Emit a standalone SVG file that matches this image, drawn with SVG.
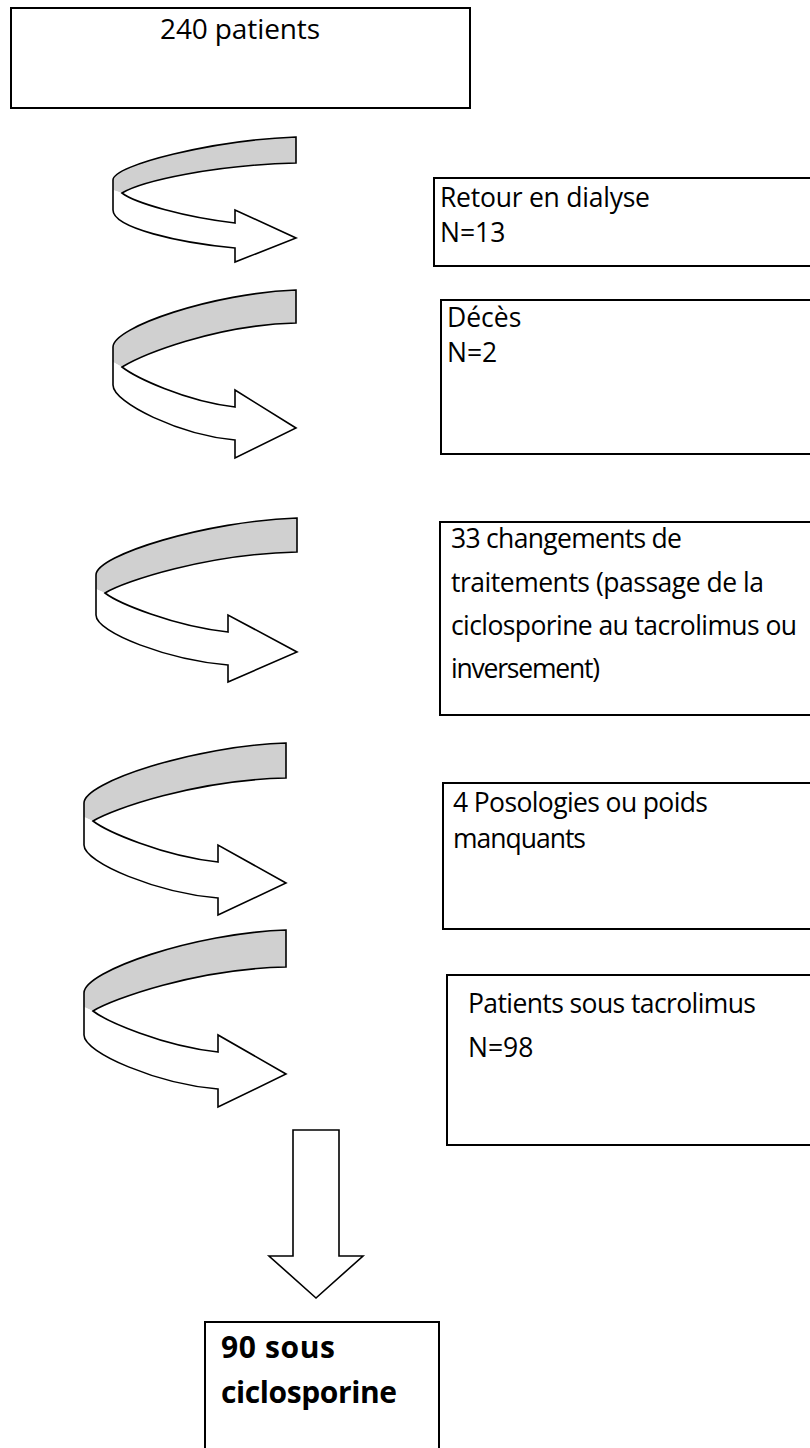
<svg xmlns="http://www.w3.org/2000/svg" width="810" height="1448" viewBox="0 0 810 1448">
<style>
.box{fill:#fff;stroke:#000;stroke-width:2}
.t{font-family:"Open Sans","Liberation Sans",sans-serif;font-size:26.5px;fill:#000}
.big{font-size:28px}
.tb{font-family:"Open Sans","Liberation Sans",sans-serif;font-size:30px;font-weight:bold;fill:#000}
.back{fill:#d0d0d0;stroke:none}
.front{fill:#fff;stroke:none}
.edge{fill:none;stroke:#000;stroke-width:1.6;stroke-linejoin:miter}
.down{fill:#fff;stroke:#000;stroke-width:1.6}
</style>
<rect width="810" height="1448" fill="#fff"/>

<g id="connectors">
  <g id="arrow1">
    <path class="back" d="M296,137 C214,140 113,165 113,180 L113,190 L122,193 C142,181 214,165 296,163 Z"/>
    <path class="front" d="M122,193 C135,203 184,217 235,223 L235,210 L296,238 L235,262 L235,248 C180,243 113,228 113,210 L113,190 Z"/>
    <path class="edge" d="M296,163 L296,137 C214,140 113,165 113,180 L113,210 C113,228 180,243 235,248 L235,262 L296,238 L235,210 L235,223 C184,217 135,203 122,193 C142,181 214,165 296,163 Z"/>
  </g>
  <g id="arrow2">
    <path class="back" d="M296,290 C214,293 113,327 113,347 L113,362 L122,367 C142,355 214,325 296,323 Z"/>
    <path class="front" d="M122,367 C135,377 184,401 235,407 L235,390 L296,428 L235,458 L235,440 C180,435 113,403 113,385 L113,362 Z"/>
    <path class="edge" d="M296,323 L296,290 C214,293 113,327 113,347 L113,385 C113,403 180,435 235,440 L235,458 L296,428 L235,390 L235,407 C184,401 135,377 122,367 C142,355 214,325 296,323 Z"/>
  </g>
  <g id="arrow3">
    <path class="back" d="M297,518 C207,521 96,555 96,575 L96,589 L105,593 C125,581 207,554 297,552 Z"/>
    <path class="front" d="M105,593 C118,603 173,626 228,632 L228,615 L297,652 L228,682 L228,665 C169,660 96,633 96,615 L96,589 Z"/>
    <path class="edge" d="M297,552 L297,518 C207,521 96,555 96,575 L96,615 C96,633 169,660 228,665 L228,682 L297,652 L228,615 L228,632 C173,626 118,603 105,593 C125,581 207,554 297,552 Z"/>
  </g>
  <g id="arrow4">
    <path class="back" d="M286,743 C195,746 84,782 84,803 L84,817 L93,821 C113,809 195,780 286,778 Z"/>
    <path class="front" d="M93,821 C106,831 162,856 218,862 L218,845 L286,883 L218,915 L218,898 C158,893 84,863 84,845 L84,817 Z"/>
    <path class="edge" d="M286,778 L286,743 C195,746 84,782 84,803 L84,845 C84,863 158,893 218,898 L218,915 L286,883 L218,845 L218,862 C162,856 106,831 93,821 C113,809 195,780 286,778 Z"/>
  </g>
  <g id="arrow5">
    <path class="back" d="M286,930 C195,933 84,971 84,993 L84,1007 L93,1011 C113,999 195,969 286,967 Z"/>
    <path class="front" d="M93,1011 C106,1021 162,1046 218,1052 L218,1035 L286,1074 L218,1107 L218,1089 C158,1084 84,1053 84,1035 L84,1007 Z"/>
    <path class="edge" d="M286,967 L286,930 C195,933 84,971 84,993 L84,1035 C84,1053 158,1084 218,1089 L218,1107 L286,1074 L218,1035 L218,1052 C162,1046 106,1021 93,1011 C113,999 195,969 286,967 Z"/>
  </g>
  <g id="arrow-down">
    <polygon class="down" points="293,1130 339,1130 339,1256 363,1256 316,1298 269,1256 293,1256"/>
  </g>
</g>

<g id="node-start">
  <rect class="box" x="11" y="8" width="459" height="100"/>
  <text class="t big" x="160" y="39" textLength="160">240 patients</text>
</g>
<g id="node-dialyse">
  <rect class="box" x="434" y="178" width="390" height="88"/>
  <text class="t" x="440" y="207" textLength="210">Retour en dialyse</text>
  <text class="t" x="440" y="242">N=13</text>
</g>
<g id="node-deces">
  <rect class="box" x="441" y="300" width="390" height="154"/>
  <text class="t" x="447" y="327">Décès</text>
  <text class="t" x="447" y="362">N=2</text>
</g>
<g id="node-changements">
  <rect class="box" x="440" y="522" width="390" height="193"/>
  <text class="t" x="451" y="548" textLength="231">33 changements de</text>
  <text class="t" x="451" y="592" textLength="313">traitements (passage de la</text>
  <text class="t" x="451" y="635" textLength="346">ciclosporine au tacrolimus ou</text>
  <text class="t" x="451" y="678" textLength="149">inversement)</text>
</g>
<g id="node-posologies">
  <rect class="box" x="443" y="783" width="390" height="146"/>
  <text class="t" x="453" y="812" textLength="255">4 Posologies ou poids</text>
  <text class="t" x="453" y="848" textLength="133">manquants</text>
</g>
<g id="node-tacrolimus">
  <rect class="box" x="447" y="975" width="390" height="170"/>
  <text class="t" x="468" y="1013" textLength="288">Patients sous tacrolimus</text>
  <text class="t" x="468" y="1057">N=98</text>
</g>
<g id="node-ciclosporine">
  <rect class="box" x="205" y="1322" width="234" height="140"/>
  <text class="tb" x="221" y="1358" textLength="114">90 sous</text>
  <text class="tb" x="221" y="1403" textLength="176">ciclosporine</text>
</g>
</svg>
